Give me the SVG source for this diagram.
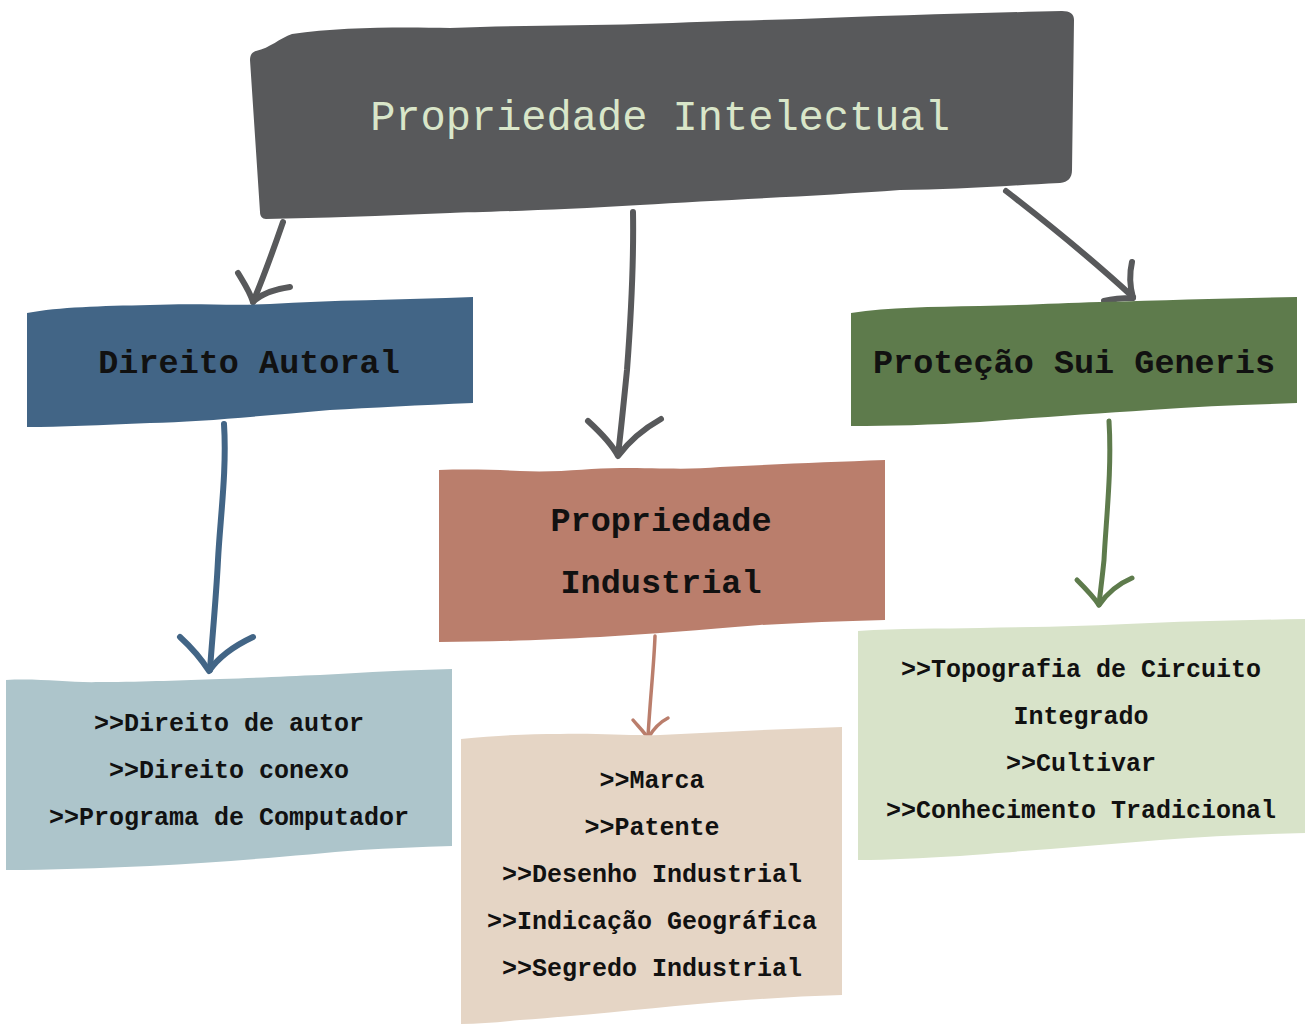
<svg xmlns="http://www.w3.org/2000/svg" width="1305" height="1024" viewBox="0 0 1305 1024">
<style>
  .t { font-family: "Liberation Mono", "DejaVu Sans Mono", monospace; text-anchor: middle; }
  .title { font-size: 42px; fill: #D9E6C9; }
  .cat { font-size: 33.5px; fill: #111; font-weight: bold; }
  .item { font-size: 25px; fill: #111; font-weight: bold; }
  .c { fill: none; stroke-linecap: round; stroke-linejoin: round; }
  .dark { stroke: #58595B; stroke-width: 6; }
  .blue { stroke: #426586; stroke-width: 6; }
  .rust { stroke: #BA7E6C; stroke-width: 3.5; }
  .green { stroke: #5E7B4C; stroke-width: 5; }
</style>
<rect width="1305" height="1024" fill="#FFFFFF"/>

<g id="connectors">
  <path class="c dark" d="M283,222 C274,248 264,276 253,302"/>
  <path class="c dark" d="M238,273 C244,283 250,292 253,302 C262,293 276,289 290,287"/>

  <path class="c dark" d="M633,212 C634,270 630,330 627,370 C624,400 621,430 618,455"/>
  <path class="c dark" d="M588,421 C600,432 612,444 618,456 C630,440 645,428 661,419"/>

  <path class="c dark" d="M1006,191 C1050,225 1095,262 1133,297"/>
  <path class="c dark" d="M1132,262 C1129,275 1130,287 1133,298 C1122,298 1112,299 1104,301"/>

  <path class="c blue" d="M224,424 C227,470 220,520 218,560 C216,600 212,640 210,670"/>
  <path class="c blue" d="M180,637 C192,648 202,660 209,671 C220,655 236,645 253,637"/>

  <path class="c rust" d="M655,636 C654,665 650,700 648,737"/>
  <path class="c rust" d="M633,720 C638,726 644,732 648,738 C654,728 660,722 668,718"/>

  <path class="c green" d="M1109,421 C1112,470 1106,520 1104,560 C1102,580 1100,594 1099,605"/>
  <path class="c green" d="M1077,580 C1085,588 1093,596 1099,605 C1108,592 1118,584 1132,578"/>
</g>

<g id="node-root">
  <path fill="#58595B" d="M256,51 C270,48 280,38 292,34 C340,27 400,27 450,28 C520,25 580,26 640,24 C700,22 760,20 800,19 C880,16 980,13 1062,11 C1070,11 1074,14 1074,20 L1072,170 C1072,178 1068,182 1060,183 C1000,186 950,190 900,190 C820,196 720,200 640,205 C560,210 480,212 450,213 C380,216 320,218 266,219 C262,219 260,216 260,212 L250,60 C250,55 252,52 256,51 Z"/>
  <text class="t title" x="660" y="130">Propriedade Intelectual</text>
</g>

<g id="node-direito-autoral">
  <path fill="#426586" d="M27,313 C60,307 100,306 150,305 C200,303 230,306 270,304 C330,300 400,300 473,297 L473,403 C420,405 370,408 330,410 C260,416 200,422 150,423 C100,425 60,427 27,427 Z"/>
  <text class="t cat" x="249" y="373">Direito Autoral</text>
</g>

<g id="node-sui-generis">
  <path fill="#5E7B4C" d="M851,313 C890,307 930,307 980,306 C1030,305 1060,303 1100,302 C1170,300 1230,298 1297,297 L1297,403 C1250,405 1200,406 1150,410 C1090,414 1030,418 980,422 C930,425 890,426 851,426 Z"/>
  <text class="t cat" x="1074" y="373">Proteção Sui Generis</text>
</g>

<g id="node-propriedade-industrial">
  <path fill="#BA7E6C" d="M439,470 C470,469 500,470 520,471 C560,473 590,468 620,468 C660,468 690,470 720,467 C780,464 830,462 885,460 L885,620 C840,621 800,623 760,625 C700,630 650,634 600,637 C540,640 490,642 439,642 Z"/>
  <text class="t cat" x="661" y="531">Propriedade</text>
  <text class="t cat" x="661" y="593">Industrial</text>
</g>

<g id="node-direito-list">
  <path fill="#ADC5CB" d="M6,680 C40,678 70,683 100,682 C150,682 180,680 220,679 C260,678 290,676 320,675 C370,672 410,670 452,669 L452,846 C420,847 390,848 360,850 C300,855 230,862 150,866 C100,868 50,870 6,870 Z"/>
  <text class="t item" x="229" y="731">&gt;&gt;Direito de autor</text>
  <text class="t item" x="229" y="778">&gt;&gt;Direito conexo</text>
  <text class="t item" x="229" y="825">&gt;&gt;Programa de Computador</text>
</g>

<g id="node-industrial-list">
  <path fill="#E5D5C5" d="M461,739 C500,735 530,734 560,734 C600,733 630,736 660,735 C720,732 780,729 842,727 L842,995 C800,996 760,999 720,1002 C650,1008 580,1016 520,1020 C500,1022 480,1024 461,1024 Z"/>
  <text class="t item" x="652" y="788">&gt;&gt;Marca</text>
  <text class="t item" x="652" y="835">&gt;&gt;Patente</text>
  <text class="t item" x="652" y="882">&gt;&gt;Desenho Industrial</text>
  <text class="t item" x="652" y="929">&gt;&gt;Indicação Geográfica</text>
  <text class="t item" x="652" y="976">&gt;&gt;Segredo Industrial</text>
</g>

<g id="node-sui-generis-list">
  <path fill="#D8E3C9" d="M858,631 C900,628 940,629 980,628 C1040,627 1090,626 1150,623 C1200,621 1250,620 1305,619 L1305,833 C1260,834 1210,836 1160,840 C1090,846 1010,852 960,856 C920,858 890,860 858,860 Z"/>
  <text class="t item" x="1081" y="677">&gt;&gt;Topografia de Circuito</text>
  <text class="t item" x="1081" y="724">Integrado</text>
  <text class="t item" x="1081" y="771">&gt;&gt;Cultivar</text>
  <text class="t item" x="1081" y="818">&gt;&gt;Conhecimento Tradicional</text>
</g>
</svg>
